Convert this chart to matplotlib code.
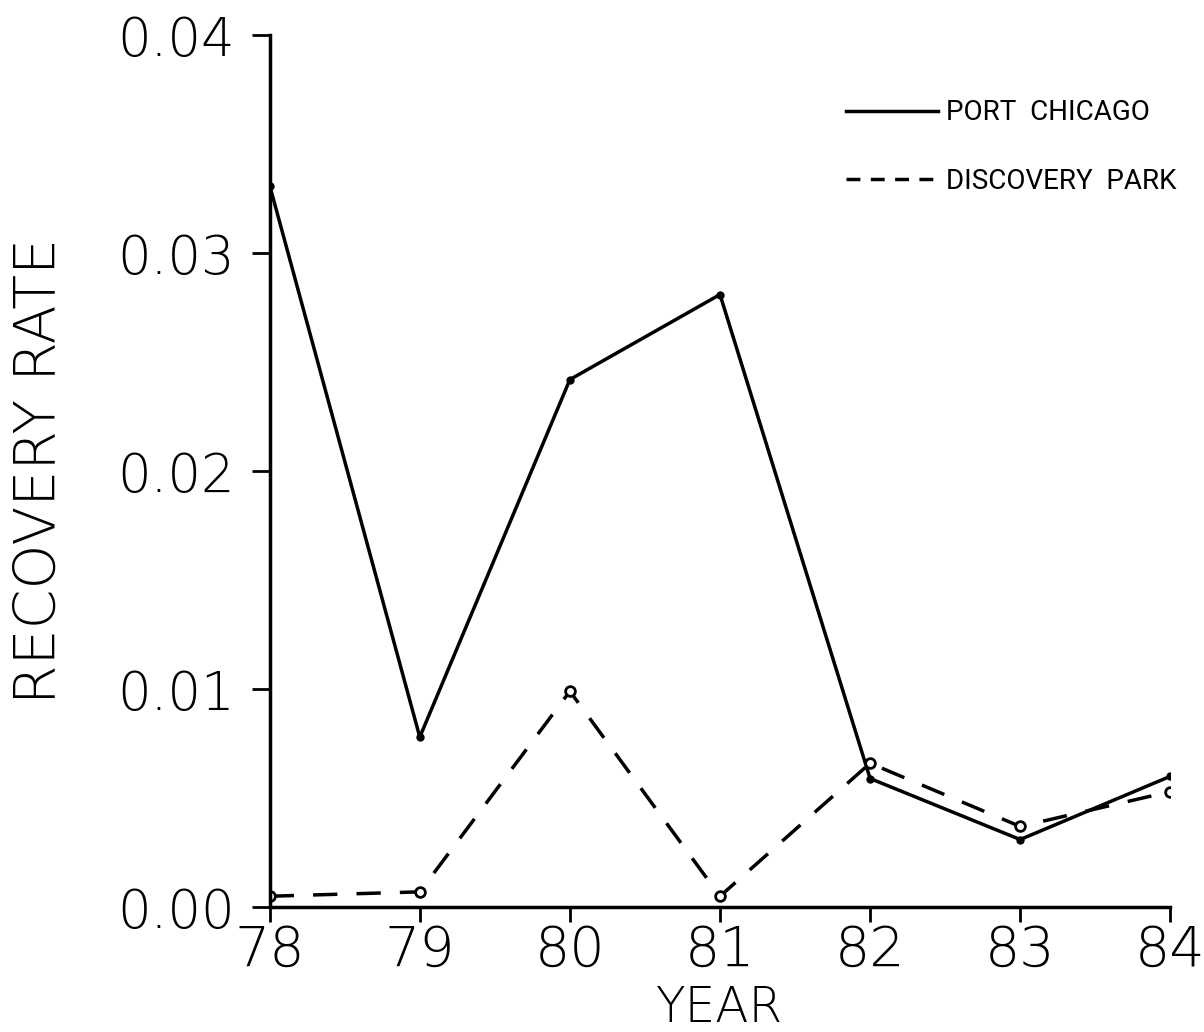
import matplotlib
matplotlib.use("Agg")
import matplotlib.pyplot as plt
from matplotlib.lines import Line2D

years = [78, 79, 80, 81, 82, 83, 84]
port_chicago = [0.0331, 0.0078, 0.0242, 0.0281, 0.0059, 0.0031, 0.0060]
discovery_park = [0.0005, 0.0007, 0.0099, 0.0005, 0.0066, 0.0037, 0.0053]
yticks = [0.00, 0.01, 0.02, 0.03, 0.04]
ytick_labels = ["0.00", "0.01", "0.02", "0.03", "0.04"]
series_names = ["PORT  CHICAGO", "DISCOVERY  PARK"]

plt.rcParams['font.family'] = ['DejaVu Sans']

fig = plt.figure(figsize=(12.04, 10.32), dpi=100)
ax = fig.add_axes([0.224, 0.121, 0.748, 0.845])

ax.plot(years, port_chicago, color='black', lw=2.5, marker='o', markersize=5,
        markerfacecolor='black', markeredgecolor='black')
ax.plot(years, discovery_park, color='black', lw=2.5, linestyle=(0, (7, 5.5)),
        marker='o', markersize=7, markerfacecolor='white', markeredgecolor='black',
        markeredgewidth=2)

ax.set_xlim(78, 84)
ax.set_ylim(0, 0.04)
ax.set_xticks(years)
ax.set_xticklabels([str(y) for y in years])
ax.set_yticks(yticks)
ax.set_yticklabels(ytick_labels)

for s in ['top', 'right']:
    ax.spines[s].set_visible(False)
for s in ['left', 'bottom']:
    ax.spines[s].set_linewidth(2.5)

ax.tick_params(axis='y', direction='out', length=13, width=2, labelsize=38, pad=12)
ax.tick_params(axis='x', direction='out', length=11, width=2, labelsize=40, pad=1)
for lab in ax.get_xticklabels() + ax.get_yticklabels():
    lab.set_fontweight('light')

ax.set_ylabel("RECOVERY RATE", fontsize=41, fontweight='light')
ax.yaxis.set_label_coords(-0.224, 0.5)
ax.set_xlabel("YEAR", fontsize=35, fontweight='light', va='top')
ax.xaxis.set_label_coords(0.5, -0.088)

handles = [Line2D([], [], color='black', lw=2.5),
           Line2D([], [], color='black', lw=2.5, linestyle=(0, (4, 3)))]
leg = ax.legend(handles, series_names, loc='upper right', bbox_to_anchor=(1.035, 0.955),
                frameon=False, handlelength=3.3, handletextpad=0.3,
                labelspacing=1.5, prop={'family': 'Roboto', 'size': 20})

fig.savefig("out.png", dpi=100, facecolor='white')
